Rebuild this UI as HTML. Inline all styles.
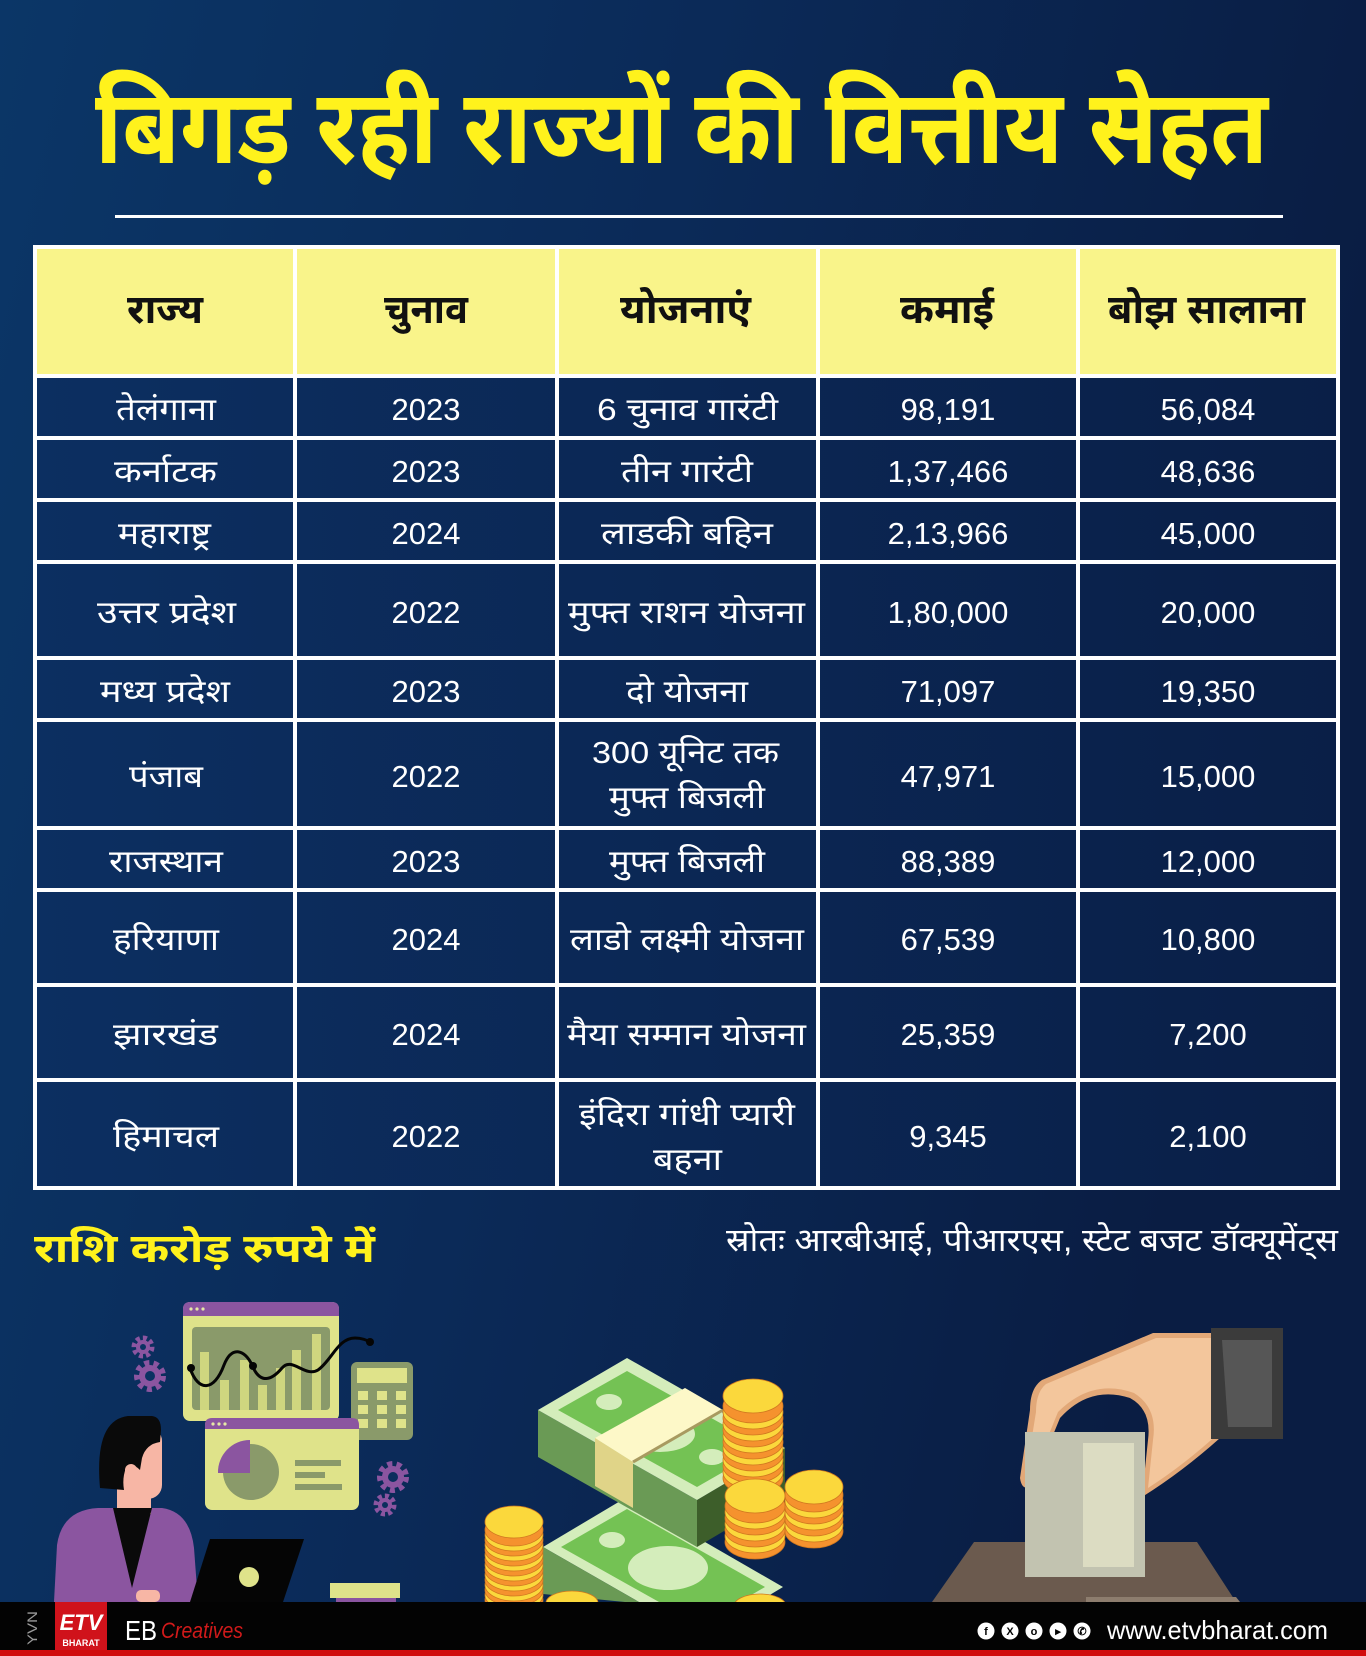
<!DOCTYPE html>
<html>
<head>
<meta charset="utf-8">
<style>
  html,body{margin:0;padding:0;}
  body{width:1366px;height:1656px;overflow:hidden;background:#0b2a58;}
  svg{display:block;}
  .dv{font-family:"Liberation Sans","Noto Sans Devanagari","Lohit Devanagari","FreeSans","Noto Sans CJK SC",sans-serif;}
  .num{font-family:"Liberation Sans",sans-serif;}
</style>
</head>
<body>
<svg width="1366" height="1656" viewBox="0 0 1366 1656" xmlns="http://www.w3.org/2000/svg">
  <defs>
    <linearGradient id="bg" x1="0" y1="0" x2="1366" y2="300" gradientUnits="userSpaceOnUse">
      <stop offset="0" stop-color="#0b3667"/>
      <stop offset="0.5" stop-color="#0b2a58"/>
      <stop offset="1" stop-color="#0a1d43"/>
    </linearGradient>
    <linearGradient id="cell" x1="33" y1="0" x2="1340" y2="0" gradientUnits="userSpaceOnUse">
      <stop offset="0" stop-color="#0c2f61"/>
      <stop offset="1" stop-color="#0a1f47"/>
    </linearGradient>
  </defs>

  <!-- background -->
  <rect x="0" y="0" width="1366" height="1656" fill="url(#bg)"/>

  <!-- title -->
  <text class="dv" x="95" y="163" font-size="104" font-weight="700" fill="#fff21c" textLength="1173" lengthAdjust="spacingAndGlyphs">बिगड़ रही राज्यों की वित्तीय सेहत</text>
  <rect x="115" y="215" width="1168" height="3" fill="#ffffff"/>

  <!-- table frame -->
  <rect x="33" y="245" width="1307" height="945" fill="#ffffff"/>
  <!-- header cells -->
  <g fill="#f9f48a">
    <rect x="37" y="249" width="256" height="125"/>
    <rect x="297" y="249" width="258" height="125"/>
    <rect x="559" y="249" width="257" height="125"/>
    <rect x="820" y="249" width="256" height="125"/>
    <rect x="1080" y="249" width="256" height="125"/>
  </g>
  <!-- body cells -->
  <g fill="url(#cell)">
    <!-- rows: y,h -->
    <g id="r1">
      <rect x="37" y="378" width="256" height="58"/><rect x="297" y="378" width="258" height="58"/><rect x="559" y="378" width="257" height="58"/><rect x="820" y="378" width="256" height="58"/><rect x="1080" y="378" width="256" height="58"/>
    </g>
    <rect x="37" y="440" width="256" height="58"/><rect x="297" y="440" width="258" height="58"/><rect x="559" y="440" width="257" height="58"/><rect x="820" y="440" width="256" height="58"/><rect x="1080" y="440" width="256" height="58"/>
    <rect x="37" y="502" width="256" height="58"/><rect x="297" y="502" width="258" height="58"/><rect x="559" y="502" width="257" height="58"/><rect x="820" y="502" width="256" height="58"/><rect x="1080" y="502" width="256" height="58"/>
    <rect x="37" y="564" width="256" height="92"/><rect x="297" y="564" width="258" height="92"/><rect x="559" y="564" width="257" height="92"/><rect x="820" y="564" width="256" height="92"/><rect x="1080" y="564" width="256" height="92"/>
    <rect x="37" y="660" width="256" height="58"/><rect x="297" y="660" width="258" height="58"/><rect x="559" y="660" width="257" height="58"/><rect x="820" y="660" width="256" height="58"/><rect x="1080" y="660" width="256" height="58"/>
    <rect x="37" y="722" width="256" height="104"/><rect x="297" y="722" width="258" height="104"/><rect x="559" y="722" width="257" height="104"/><rect x="820" y="722" width="256" height="104"/><rect x="1080" y="722" width="256" height="104"/>
    <rect x="37" y="830" width="256" height="58"/><rect x="297" y="830" width="258" height="58"/><rect x="559" y="830" width="257" height="58"/><rect x="820" y="830" width="256" height="58"/><rect x="1080" y="830" width="256" height="58"/>
    <rect x="37" y="892" width="256" height="91"/><rect x="297" y="892" width="258" height="91"/><rect x="559" y="892" width="257" height="91"/><rect x="820" y="892" width="256" height="91"/><rect x="1080" y="892" width="256" height="91"/>
    <rect x="37" y="987" width="256" height="91"/><rect x="297" y="987" width="258" height="91"/><rect x="559" y="987" width="257" height="91"/><rect x="820" y="987" width="256" height="91"/><rect x="1080" y="987" width="256" height="91"/>
    <rect x="37" y="1082" width="256" height="104"/><rect x="297" y="1082" width="258" height="104"/><rect x="559" y="1082" width="257" height="104"/><rect x="820" y="1082" width="256" height="104"/><rect x="1080" y="1082" width="256" height="104"/>
  </g>

  <!-- header text -->
  <g class="dv" font-size="40" font-weight="700" fill="#111111">
    <text x="127" y="323" textLength="76" lengthAdjust="spacingAndGlyphs">राज्य</text>
    <text x="384" y="323" textLength="84" lengthAdjust="spacingAndGlyphs">चुनाव</text>
    <text x="620" y="323" textLength="131" lengthAdjust="spacingAndGlyphs">योजनाएं</text>
    <text x="900" y="323" textLength="94" lengthAdjust="spacingAndGlyphs">कमाई</text>
    <text x="1108" y="323" textLength="197" lengthAdjust="spacingAndGlyphs">बोझ सालाना</text>
  </g>

  <!-- column 1: states -->
  <g class="dv" font-size="31" fill="#ffffff">
    <text x="116" y="420" textLength="100" lengthAdjust="spacingAndGlyphs">तेलंगाना</text>
    <text x="114" y="482" textLength="103" lengthAdjust="spacingAndGlyphs">कर्नाटक</text>
    <text x="118" y="544" textLength="93" lengthAdjust="spacingAndGlyphs">महाराष्ट्र</text>
    <text x="97" y="623" textLength="139" lengthAdjust="spacingAndGlyphs">उत्तर प्रदेश</text>
    <text x="100" y="702" textLength="130" lengthAdjust="spacingAndGlyphs">मध्य प्रदेश</text>
    <text x="129" y="787" textLength="74" lengthAdjust="spacingAndGlyphs">पंजाब</text>
    <text x="109" y="872" textLength="114" lengthAdjust="spacingAndGlyphs">राजस्थान</text>
    <text x="113" y="950" textLength="106" lengthAdjust="spacingAndGlyphs">हरियाणा</text>
    <text x="113" y="1045" textLength="105" lengthAdjust="spacingAndGlyphs">झारखंड</text>
    <text x="113" y="1147" textLength="106" lengthAdjust="spacingAndGlyphs">हिमाचल</text>
  </g>

  <!-- column 2: years -->
  <g class="num" font-size="31" fill="#ffffff" text-anchor="middle">
    <text x="426" y="420">2023</text>
    <text x="426" y="482">2023</text>
    <text x="426" y="544">2024</text>
    <text x="426" y="623">2022</text>
    <text x="426" y="702">2023</text>
    <text x="426" y="787">2022</text>
    <text x="426" y="872">2023</text>
    <text x="426" y="950">2024</text>
    <text x="426" y="1045">2024</text>
    <text x="426" y="1147">2022</text>
  </g>

  <!-- column 3: schemes -->
  <g class="dv" font-size="31" fill="#ffffff">
    <text x="597" y="420" textLength="181" lengthAdjust="spacingAndGlyphs">6 चुनाव गारंटी</text>
    <text x="621" y="482" textLength="132" lengthAdjust="spacingAndGlyphs">तीन गारंटी</text>
    <text x="601" y="544" textLength="172" lengthAdjust="spacingAndGlyphs">लाडकी बहिन</text>
    <text x="568" y="623" textLength="237" lengthAdjust="spacingAndGlyphs">मुफ्त राशन योजना</text>
    <text x="626" y="702" textLength="122" lengthAdjust="spacingAndGlyphs">दो योजना</text>
    <text x="592" y="763" textLength="187" lengthAdjust="spacingAndGlyphs">300 यूनिट तक</text>
    <text x="609" y="808" textLength="156" lengthAdjust="spacingAndGlyphs">मुफ्त बिजली</text>
    <text x="609" y="872" textLength="156" lengthAdjust="spacingAndGlyphs">मुफ्त बिजली</text>
    <text x="570" y="950" textLength="234" lengthAdjust="spacingAndGlyphs">लाडो लक्ष्मी योजना</text>
    <text x="567" y="1045" textLength="239" lengthAdjust="spacingAndGlyphs">मैया सम्मान योजना</text>
    <text x="579" y="1125" textLength="216" lengthAdjust="spacingAndGlyphs">इंदिरा गांधी प्यारी</text>
    <text x="653" y="1170" textLength="69" lengthAdjust="spacingAndGlyphs">बहना</text>
  </g>

  <!-- column 4: income -->
  <g class="num" font-size="31" fill="#ffffff" text-anchor="middle">
    <text x="948" y="420">98,191</text>
    <text x="948" y="482">1,37,466</text>
    <text x="948" y="544">2,13,966</text>
    <text x="948" y="623">1,80,000</text>
    <text x="948" y="702">71,097</text>
    <text x="948" y="787">47,971</text>
    <text x="948" y="872">88,389</text>
    <text x="948" y="950">67,539</text>
    <text x="948" y="1045">25,359</text>
    <text x="948" y="1147">9,345</text>
  </g>

  <!-- column 5: burden -->
  <g class="num" font-size="31" fill="#ffffff" text-anchor="middle">
    <text x="1208" y="420">56,084</text>
    <text x="1208" y="482">48,636</text>
    <text x="1208" y="544">45,000</text>
    <text x="1208" y="623">20,000</text>
    <text x="1208" y="702">19,350</text>
    <text x="1208" y="787">15,000</text>
    <text x="1208" y="872">12,000</text>
    <text x="1208" y="950">10,800</text>
    <text x="1208" y="1045">7,200</text>
    <text x="1208" y="1147">2,100</text>
  </g>

  <!-- notes -->
  <text class="dv" x="34" y="1262" font-size="40" font-weight="700" fill="#fff21c" textLength="341" lengthAdjust="spacingAndGlyphs">राशि करोड़ रुपये में</text>
  <text class="dv" x="726" y="1251" font-size="32" fill="#ffffff" textLength="612" lengthAdjust="spacingAndGlyphs">स्रोतः आरबीआई, पीआरएस, स्टेट बजट डॉक्यूमेंट्स</text>

  <!-- ===== Illustration: person with charts ===== -->
  <g>
    <!-- gears -->
    <g fill="#8b55a0">
      <circle cx="143" cy="1347" r="7"/>
      <circle cx="143" cy="1347" r="9" fill="none" stroke="#8b55a0" stroke-width="5" stroke-dasharray="4 3"/>
      <circle cx="143" cy="1347" r="3" fill="#0b3262"/>
      <circle cx="150" cy="1376" r="11"/>
      <circle cx="150" cy="1376" r="13" fill="none" stroke="#8b55a0" stroke-width="6" stroke-dasharray="5 4.2"/>
      <circle cx="150" cy="1376" r="5" fill="#0b3262"/>
      <circle cx="393" cy="1477" r="11"/>
      <circle cx="393" cy="1477" r="13" fill="none" stroke="#8b55a0" stroke-width="6" stroke-dasharray="5 4.2"/>
      <circle cx="393" cy="1477" r="5" fill="#0b2e5d"/>
      <circle cx="385" cy="1505" r="7"/>
      <circle cx="385" cy="1505" r="9" fill="none" stroke="#8b55a0" stroke-width="5" stroke-dasharray="4 3"/>
      <circle cx="385" cy="1505" r="3" fill="#0b2e5d"/>
    </g>
    <!-- window 1 chart -->
    <rect x="183" y="1302" width="156" height="119" rx="7" fill="#dfe38a"/>
    <path d="M183,1316 L183,1309 Q183,1302 190,1302 L332,1302 Q339,1302 339,1309 L339,1316 Z" fill="#8b55a0"/>
    <g fill="#e6e9a6"><circle cx="191" cy="1309" r="1.6"/><circle cx="197" cy="1309" r="1.6"/><circle cx="203" cy="1309" r="1.6"/></g>
    <rect x="192" y="1327" width="138" height="83" rx="4" fill="#8a9a6a"/>
    <g fill="#cfd67f">
      <rect x="200" y="1352" width="9" height="58"/>
      <rect x="220" y="1380" width="9" height="30"/>
      <rect x="240" y="1360" width="9" height="50"/>
      <rect x="258" y="1385" width="9" height="25"/>
      <rect x="276" y="1368" width="9" height="42"/>
      <rect x="292" y="1350" width="9" height="60"/>
      <rect x="312" y="1334" width="9" height="76"/>
    </g>
    <path d="M190,1368 C198,1392 214,1392 224,1365 C232,1345 245,1350 252,1365 C260,1385 272,1380 282,1368 C292,1356 305,1378 318,1370 C332,1360 338,1338 355,1338 C362,1338 366,1340 370,1342" fill="none" stroke="#050505" stroke-width="3"/>
    <circle cx="191" cy="1368" r="4" fill="#050505"/>
    <circle cx="253" cy="1366" r="4" fill="#050505"/>
    <circle cx="370" cy="1342" r="4" fill="#050505"/>
    <!-- calculator -->
    <rect x="351" y="1362" width="62" height="78" rx="6" fill="#8a9a6a"/>
    <rect x="357" y="1368" width="50" height="15" fill="#dfe38a"/>
    <g fill="#dfe38a">
      <rect x="358" y="1391" width="10" height="9"/><rect x="377" y="1391" width="10" height="9"/><rect x="396" y="1391" width="10" height="9"/>
      <rect x="358" y="1405" width="10" height="9"/><rect x="377" y="1405" width="10" height="9"/><rect x="396" y="1405" width="10" height="9"/>
      <rect x="358" y="1419" width="10" height="9"/><rect x="377" y="1419" width="10" height="9"/><rect x="396" y="1419" width="10" height="9"/>
    </g>
    <!-- window 2 pie -->
    <rect x="205" y="1418" width="154" height="92" rx="7" fill="#dfe38a"/>
    <path d="M205,1429 L205,1425 Q205,1418 212,1418 L352,1418 Q359,1418 359,1425 L359,1429 Z" fill="#8b55a0"/>
    <g fill="#e6e9a6"><circle cx="213" cy="1424" r="1.6"/><circle cx="219" cy="1424" r="1.6"/><circle cx="225" cy="1424" r="1.6"/></g>
    <circle cx="251" cy="1472" r="28" fill="#8a9a6a"/>
    <path d="M250,1473 L250,1440 A32,32 0 0 0 218,1473 Z" fill="#8b55a0"/>
    <g fill="#8a9a6a">
      <rect x="295" y="1460" width="46" height="6"/>
      <rect x="295" y="1472" width="30" height="6"/>
      <rect x="295" y="1484" width="47" height="6"/>
    </g>
    <!-- person -->
    <path d="M54,1602 L57,1545 Q62,1510 98,1508 L162,1508 Q190,1512 194,1548 L198,1602 Z" fill="#8b55a0"/>
    <rect x="117" y="1462" width="34" height="52" fill="#f7b6a5"/>
    <path d="M113,1508 L152,1508 L132,1588 Z" fill="#0a0a0a"/>
    <rect x="118" y="1427" width="44" height="72" rx="14" fill="#f7b6a5"/>
    <path d="M100,1488 Q94,1420 128,1416 L152,1416 Q161,1417 161,1430 L160,1442 Q146,1444 142,1458 L140,1470 Q132,1462 126,1468 Q122,1478 124,1490 Z" fill="#0a0a0a"/>
    <circle cx="131" cy="1470" r="6" fill="#f7b6a5"/>
    <rect x="136" y="1590" width="24" height="12" rx="5" fill="#f7b6a5"/>
    <!-- laptop -->
    <path d="M210,1539 L304,1539 L283,1602 L190,1602 Z" fill="#050505"/>
    <circle cx="249" cy="1577" r="10" fill="#dfe38a"/>
    <!-- book -->
    <rect x="330" y="1583" width="70" height="15" fill="#dfe38a"/>
    <rect x="336" y="1598" width="60" height="4" fill="#8b55a0"/>
  </g>

  <!-- ===== Illustration: money ===== -->
  <g>
    <!-- lower stack -->
    <path d="M543,1547 L627,1497 L783,1587 L700,1637 Z" fill="#d4edbb"/>
    <path d="M561,1547 L627,1509 L765,1587 L700,1625 Z" fill="#74c254"/>
    <ellipse cx="612" cy="1540" rx="13" ry="8" fill="#d4edbb"/>
    <ellipse cx="668" cy="1568" rx="40" ry="22" fill="#d4edbb"/>
    <path d="M543,1547 L543,1594 L625,1602 L700,1637 Z" fill="#6a9a55"/>
    <!-- upper stack -->
    <path d="M538,1410 L697,1500 L697,1547 L538,1457 Z" fill="#6a9a55"/>
    <path d="M697,1500 L785,1448 L785,1495 L697,1547 Z" fill="#3d5e2a"/>
    <path d="M538,1410 L627,1358 L785,1448 L697,1500 Z" fill="#d4edbb"/>
    <path d="M558,1410 L627,1371 L765,1448 L697,1487 Z" fill="#74c254"/>
    <ellipse cx="609" cy="1402" rx="13" ry="8" fill="#d4edbb"/>
    <ellipse cx="660" cy="1434" rx="35" ry="18" fill="#d4edbb"/>
    <ellipse cx="712" cy="1457" rx="13" ry="8" fill="#d4edbb"/>
    <!-- band -->
    <path d="M595,1438 L685,1388 L723,1410 L633,1462 Z" fill="#fdf8c8"/>
    <path d="M595,1438 L633,1462 L633,1508 L595,1486 Z" fill="#e0d488"/>
    <path d="M633,1462 L723,1410" stroke="#a89a60" stroke-width="3"/>
    <!-- coin stacks -->
    <g stroke="#d0781f" stroke-width="0.8">
      <!-- stack D (left) -->
      <ellipse cx="514" cy="1600" rx="29" ry="16" fill="#f5922e"/><ellipse cx="514" cy="1595" rx="29" ry="16" fill="#fbd83c"/>
      <ellipse cx="514" cy="1590" rx="29" ry="16" fill="#f5922e"/><ellipse cx="514" cy="1585" rx="29" ry="16" fill="#fbd83c"/>
      <ellipse cx="514" cy="1580" rx="29" ry="16" fill="#f5922e"/><ellipse cx="514" cy="1575" rx="29" ry="16" fill="#fbd83c"/>
      <ellipse cx="514" cy="1570" rx="29" ry="16" fill="#f5922e"/><ellipse cx="514" cy="1565" rx="29" ry="16" fill="#fbd83c"/>
      <ellipse cx="514" cy="1560" rx="29" ry="16" fill="#f5922e"/><ellipse cx="514" cy="1555" rx="29" ry="16" fill="#fbd83c"/>
      <ellipse cx="514" cy="1550" rx="29" ry="16" fill="#f5922e"/><ellipse cx="514" cy="1545" rx="29" ry="16" fill="#fbd83c"/>
      <ellipse cx="514" cy="1540" rx="29" ry="16" fill="#f5922e"/><ellipse cx="514" cy="1535" rx="29" ry="16" fill="#fbd83c"/>
      <ellipse cx="514" cy="1530" rx="29" ry="16" fill="#f5922e"/><ellipse cx="514" cy="1522" rx="29" ry="16" fill="#fbd83c"/>
      <!-- stack A (tall) -->
      <ellipse cx="753" cy="1478" rx="30" ry="17" fill="#f5922e"/><ellipse cx="753" cy="1472" rx="30" ry="17" fill="#fbd83c"/>
      <ellipse cx="753" cy="1466" rx="30" ry="17" fill="#f5922e"/><ellipse cx="753" cy="1460" rx="30" ry="17" fill="#fbd83c"/>
      <ellipse cx="753" cy="1454" rx="30" ry="17" fill="#f5922e"/><ellipse cx="753" cy="1448" rx="30" ry="17" fill="#fbd83c"/>
      <ellipse cx="753" cy="1442" rx="30" ry="17" fill="#f5922e"/><ellipse cx="753" cy="1436" rx="30" ry="17" fill="#fbd83c"/>
      <ellipse cx="753" cy="1430" rx="30" ry="17" fill="#f5922e"/><ellipse cx="753" cy="1424" rx="30" ry="17" fill="#fbd83c"/>
      <ellipse cx="753" cy="1418" rx="30" ry="17" fill="#f5922e"/><ellipse cx="753" cy="1412" rx="30" ry="17" fill="#fbd83c"/>
      <ellipse cx="753" cy="1406" rx="30" ry="17" fill="#f5922e"/><ellipse cx="753" cy="1396" rx="30" ry="17" fill="#fbd83c"/>
      <!-- stack C (right short) -->
      <ellipse cx="814" cy="1531" rx="29" ry="17" fill="#f5922e"/><ellipse cx="814" cy="1525" rx="29" ry="17" fill="#fbd83c"/>
      <ellipse cx="814" cy="1519" rx="29" ry="17" fill="#f5922e"/><ellipse cx="814" cy="1513" rx="29" ry="17" fill="#fbd83c"/>
      <ellipse cx="814" cy="1507" rx="29" ry="17" fill="#f5922e"/><ellipse cx="814" cy="1501" rx="29" ry="17" fill="#fbd83c"/>
      <ellipse cx="814" cy="1495" rx="29" ry="17" fill="#f5922e"/><ellipse cx="814" cy="1487" rx="29" ry="17" fill="#fbd83c"/>
      <!-- stack B (middle short) -->
      <ellipse cx="755" cy="1542" rx="30" ry="17" fill="#f5922e"/><ellipse cx="755" cy="1536" rx="30" ry="17" fill="#fbd83c"/>
      <ellipse cx="755" cy="1530" rx="30" ry="17" fill="#f5922e"/><ellipse cx="755" cy="1524" rx="30" ry="17" fill="#fbd83c"/>
      <ellipse cx="755" cy="1518" rx="30" ry="17" fill="#f5922e"/><ellipse cx="755" cy="1512" rx="30" ry="17" fill="#fbd83c"/>
      <ellipse cx="755" cy="1506" rx="30" ry="17" fill="#f5922e"/><ellipse cx="755" cy="1496" rx="30" ry="17" fill="#fbd83c"/>
      <!-- bottom partial coins -->
      <ellipse cx="572" cy="1603" rx="26" ry="12" fill="#fbd83c"/>
      <ellipse cx="760" cy="1606" rx="26" ry="12" fill="#fbd83c"/>
    </g>
  </g>

  <!-- ===== Illustration: hand & ballot ===== -->
  <g>
    <!-- box -->
    <path d="M974,1542 L1197,1542 L1236,1602 L932,1602 Z" fill="#6b5a4e"/>
    <path d="M1086,1597 L1236,1597 L1240,1602 L1086,1602 Z" fill="#8d7d6e"/>
    <!-- hand -->
    <path d="M1222,1333 L1153,1333 L1042,1380 Q1030,1388 1030,1410 L1020,1478 Q1022,1492 1032,1486 L1060,1418 Q1090,1385 1130,1398 Q1152,1410 1148,1440 L1142,1497 Q1182,1472 1220,1438 Z" fill="#e2a878"/>
    <path d="M1222,1338 L1156,1338 L1046,1384 Q1036,1392 1036,1412 L1026,1474 Q1028,1480 1032,1476 L1058,1412 Q1092,1378 1134,1393 Q1158,1408 1153,1440 L1148,1488 Q1184,1465 1220,1432 Z" fill="#f3c69c"/>
    <!-- ballot -->
    <rect x="1025" y="1432" width="120" height="145" fill="#c2c3b0"/>
    <rect x="1083" y="1443" width="51" height="124" fill="#dcdcc2"/>
    <!-- sleeve -->
    <rect x="1211" y="1328" width="72" height="111" fill="#3b3b3b"/>
    <path d="M1222,1340 L1272,1340 L1272,1427 L1228,1427 Z" fill="#565656"/>
  </g>

  <!-- ===== Footer ===== -->
  <rect x="0" y="1602" width="1366" height="48" fill="#030303"/>
  <rect x="0" y="1650" width="1366" height="6" fill="#d10d0d"/>
  <text class="num" x="0" y="0" font-size="14" fill="#9a9a9a" transform="translate(37,1645) rotate(-90)" textLength="34" lengthAdjust="spacingAndGlyphs">YVN</text>
  <rect x="55" y="1602" width="52" height="48" fill="#d0121b"/>
  <text class="num" x="81" y="1630" font-size="22" font-weight="700" font-style="italic" fill="#ffffff" text-anchor="middle">ETV</text>
  <text class="num" x="81" y="1646" font-size="9" font-weight="700" fill="#ffffff" text-anchor="middle">BHARAT</text>
  <text class="num" x="125" y="1640" font-size="28" fill="#ffffff" textLength="32" lengthAdjust="spacingAndGlyphs">EB</text>
  <text class="num" x="161" y="1638" font-size="22" font-style="italic" fill="#d11a1a" textLength="82" lengthAdjust="spacingAndGlyphs">Creatives</text>
  <g fill="#ffffff">
    <circle cx="986" cy="1631" r="8.5"/><circle cx="1010" cy="1631" r="8.5"/><circle cx="1034" cy="1631" r="8.5"/><circle cx="1058" cy="1631" r="8.5"/><circle cx="1082" cy="1631" r="8.5"/>
  </g>
  <g class="num" font-size="11" font-weight="700" fill="#030303" text-anchor="middle">
    <text x="986" y="1635">f</text>
    <text x="1010" y="1635">X</text>
    <text x="1034" y="1635">o</text>
    <text x="1058" y="1635">▸</text>
    <text x="1082" y="1635">✆</text>
  </g>
  <text class="num" x="1107" y="1639" font-size="26" fill="#ffffff" textLength="221" lengthAdjust="spacingAndGlyphs">www.etvbharat.com</text>
</svg>
</body>
</html>
